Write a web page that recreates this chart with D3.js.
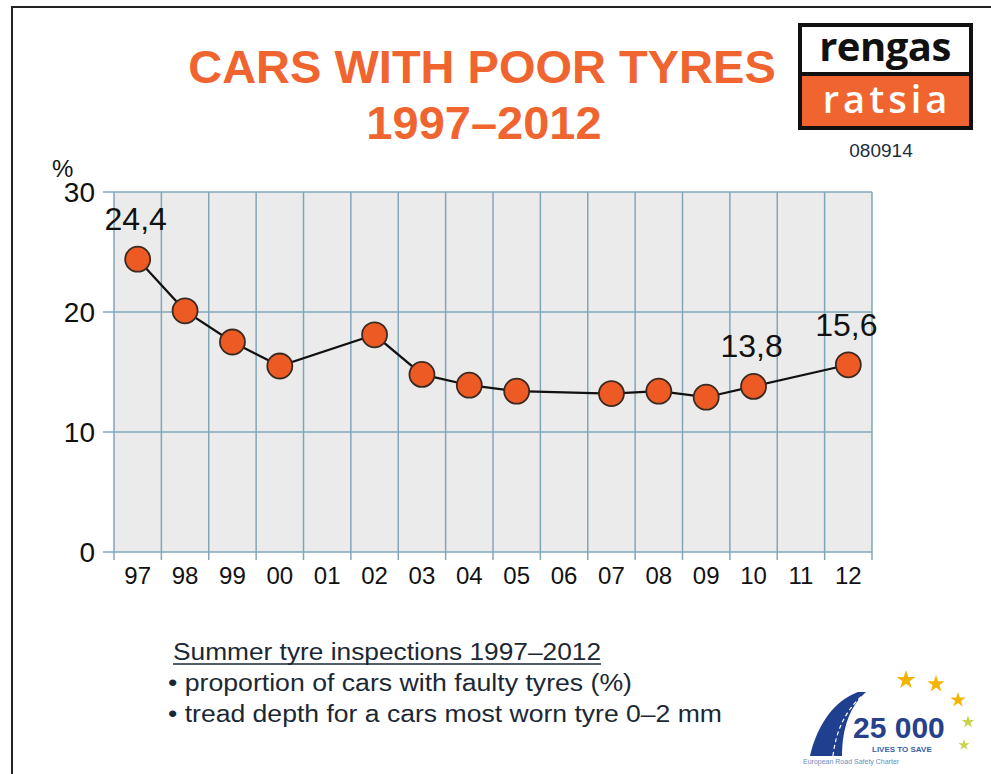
<!DOCTYPE html>
<html>
<head>
<meta charset="utf-8">
<script src="https://cdn.jsdelivr.net/npm/d3@7"></script>
<style>
  body { margin: 0; background: #fff; }
  svg { display: block; font-family: "Liberation Sans", Arial, sans-serif; }
</style>
</head>
<body>
<script>
// chart data
var years = ["97", "98", "99", "00", "01", "02", "03", "04", "05", "06", "07", "08", "09", "10", "11", "12"];
var share = [24.4, 20.1, 17.5, 15.5, null, 18.1, 14.8, 13.9, 13.4, null, 13.2, 13.4, 12.9, 13.8, null, 15.6];
var labelled = ["97", "10", "12"];
var yTicks = [0, 10, 20, 30];
var notes = ["Summer tyre inspections 1997\u20132012",
             "\u2022 proportion of cars with faulty tyres (%)",
             "\u2022 tread depth for a cars most worn tyre 0\u20132 mm"];
var noteWidths = [428, 464, 554];

var svgWidth = 991, svgHeight = 774;
var orange = "#f0652f";

var svg = d3.select("body").append("svg")
  .attr("width", svgWidth)
  .attr("height", svgHeight);

// frame
svg.append("path")
  .attr("d", "M12,774 L12,7 L991,7")
  .attr("fill", "none")
  .attr("stroke", "#222")
  .attr("stroke-width", 2);

// title
var title = svg.append("text")
  .attr("text-anchor", "middle")
  .attr("fill", orange)
  .attr("font-weight", "bold")
  .attr("font-size", 47);
title.append("tspan").attr("x", 482).attr("y", 83).text("CARS WITH POOR TYRES");
title.append("tspan").attr("x", 484).attr("y", 139).text("1997\u20132012");

// chart area
var chartMargin = { top: 192, left: 114, right: 991 - 872, bottom: 774 - 552 };
var chartWidth = svgWidth - chartMargin.left - chartMargin.right;
var chartHeight = svgHeight - chartMargin.top - chartMargin.bottom;

var chartGroup = svg.append("g")
  .attr("transform", `translate(${chartMargin.left}, ${chartMargin.top})`);

var xScale = d3.scaleBand()
  .domain(years)
  .range([0, chartWidth]);

var yScale = d3.scaleLinear()
  .domain([0, 30])
  .range([chartHeight, 0]);

chartGroup.append("rect")
  .attr("width", chartWidth)
  .attr("height", chartHeight)
  .attr("fill", "#ebebeb");

var gridColor = "#7fa7b8";

// horizontal gridlines with small left ticks
chartGroup.selectAll(".hgrid")
  .data(yTicks)
  .enter()
  .append("line")
  .attr("class", "hgrid")
  .attr("x1", -11)
  .attr("x2", chartWidth)
  .attr("y1", d => yScale(d))
  .attr("y2", d => yScale(d))
  .attr("stroke", gridColor)
  .attr("stroke-width", 1.5);

// vertical gridlines at band edges
var edges = years.map(d => xScale(d)).concat([chartWidth]);
chartGroup.selectAll(".vgrid")
  .data(edges)
  .enter()
  .append("line")
  .attr("class", "vgrid")
  .attr("x1", d => d)
  .attr("x2", d => d)
  .attr("y1", 0)
  .attr("y2", chartHeight + 8)
  .attr("stroke", gridColor)
  .attr("stroke-width", 1.5);

// y labels
chartGroup.selectAll(".ylab")
  .data(yTicks)
  .enter()
  .append("text")
  .attr("class", "ylab")
  .attr("x", -19)
  .attr("y", d => yScale(d) + 10)
  .attr("text-anchor", "end")
  .attr("font-size", 28)
  .attr("fill", "#111")
  .text(d => d);

svg.append("text")
  .attr("x", 52)
  .attr("y", 177)
  .attr("font-size", 24)
  .attr("fill", "#111")
  .text("%");

// x labels
chartGroup.selectAll(".xlab")
  .data(years)
  .enter()
  .append("text")
  .attr("class", "xlab")
  .attr("x", d => xScale(d) + xScale.bandwidth() / 2)
  .attr("y", chartHeight + 32)
  .attr("text-anchor", "middle")
  .attr("font-size", 24)
  .attr("fill", "#111")
  .text(d => d);

// line and points
var points = years.map((y, i) => ({ year: y, value: share[i] })).filter(d => d.value != null);

var line = d3.line()
  .x(d => xScale(d.year) + xScale.bandwidth() / 2)
  .y(d => yScale(d.value));

chartGroup.append("path")
  .datum(points)
  .attr("d", line)
  .attr("fill", "none")
  .attr("stroke", "#111")
  .attr("stroke-width", 2.2);

chartGroup.selectAll(".dot")
  .data(points)
  .enter()
  .append("circle")
  .attr("class", "dot")
  .attr("cx", d => xScale(d.year) + xScale.bandwidth() / 2)
  .attr("cy", d => yScale(d.value))
  .attr("r", 12.5)
  .attr("fill", "#ee5a24")
  .attr("stroke", "#3a2a22")
  .attr("stroke-width", 1.8);

chartGroup.selectAll(".vlab")
  .data(points.filter(d => labelled.indexOf(d.year) >= 0))
  .enter()
  .append("text")
  .attr("class", "vlab")
  .attr("x", d => xScale(d.year) + xScale.bandwidth() / 2 - 2)
  .attr("y", d => yScale(d.value) - 29)
  .attr("text-anchor", "middle")
  .attr("font-size", 32)
  .attr("fill", "#111")
  .text(d => String(d.value).replace(".", ","));

// rengas ratsia logo
var logo = svg.append("g");
logo.append("rect").attr("x", 798).attr("y", 23).attr("width", 175).attr("height", 107)
  .attr("fill", "#111");
logo.append("rect").attr("x", 802).attr("y", 27).attr("width", 167).attr("height", 45)
  .attr("fill", "#fff");
logo.append("rect").attr("x", 802).attr("y", 76).attr("width", 167).attr("height", 50)
  .attr("fill", orange);
logo.append("text").attr("x", 885).attr("y", 61).attr("text-anchor", "middle")
  .attr("font-family", "'Open Sans', sans-serif").attr("font-weight", "bold")
  .attr("font-size", 40).attr("letter-spacing", -0.5).attr("fill", "#111").text("rengas");
logo.append("text").attr("x", 887).attr("y", 113).attr("text-anchor", "middle")
  .attr("font-family", "'Open Sans', sans-serif").attr("font-weight", "600")
  .attr("font-size", 38).attr("letter-spacing", 4).attr("fill", "#fff").text("ratsia");
logo.append("text").attr("x", 881).attr("y", 157).attr("text-anchor", "middle")
  .attr("font-size", 19).attr("fill", "#1e2c3c").text("080914");

// notes below the chart
var noteGroup = svg.append("g").attr("fill", "#1b2833").attr("font-size", 23);
noteGroup.selectAll("text")
  .data(notes)
  .enter()
  .append("text")
  .attr("x", (d, i) => i === 0 ? 173 : 168)
  .attr("y", (d, i) => 660 + i * 31)
  .attr("textLength", (d, i) => noteWidths[i])
  .attr("lengthAdjust", "spacingAndGlyphs")
  .text(d => d);
noteGroup.append("line")
  .attr("x1", 173).attr("x2", 601).attr("y1", 664).attr("y2", 664)
  .attr("stroke", "#1b2833").attr("stroke-width", 1.5);

// 25 000 charter logo
var charter = svg.append("g");
charter.append("path")
  .attr("d", "M810,756 C818,722 836,700 858,692 L866,692 C850,706 842,728 842,756 Z")
  .attr("fill", "#1f3f8f");
charter.append("path")
  .attr("d", "M833,756 C836,730 846,710 862,696")
  .attr("fill", "none").attr("stroke", "#fff").attr("stroke-width", 1.2).attr("stroke-dasharray", "4,3");
charter.append("text").attr("x", 853).attr("y", 738)
  .attr("font-weight", "bold").attr("font-size", 30).attr("fill", "#27408b").text("25 000");
charter.append("text").attr("x", 872).attr("y", 752)
  .attr("font-weight", "bold").attr("font-size", 8).attr("fill", "#3a5fa8").text("LIVES TO SAVE");
charter.append("text").attr("x", 803).attr("y", 764)
  .attr("font-size", 7).attr("fill", "#6a8fbf").text("European Road Safety Charter");

var star = d3.symbol().type(d3.symbolStar);
var stars = [[906, 680, 110], [936, 684, 95], [958, 700, 70], [968, 722, 50], [964, 745, 40]];
charter.selectAll(".star")
  .data(stars)
  .enter()
  .append("path")
  .attr("class", "star")
  .attr("transform", d => `translate(${d[0]},${d[1]})`)
  .attr("d", d => star.size(d[2])())
  .attr("fill", (d, i) => i < 3 ? "#f4b400" : "#c9d44a");
</script>
</body>
</html>
